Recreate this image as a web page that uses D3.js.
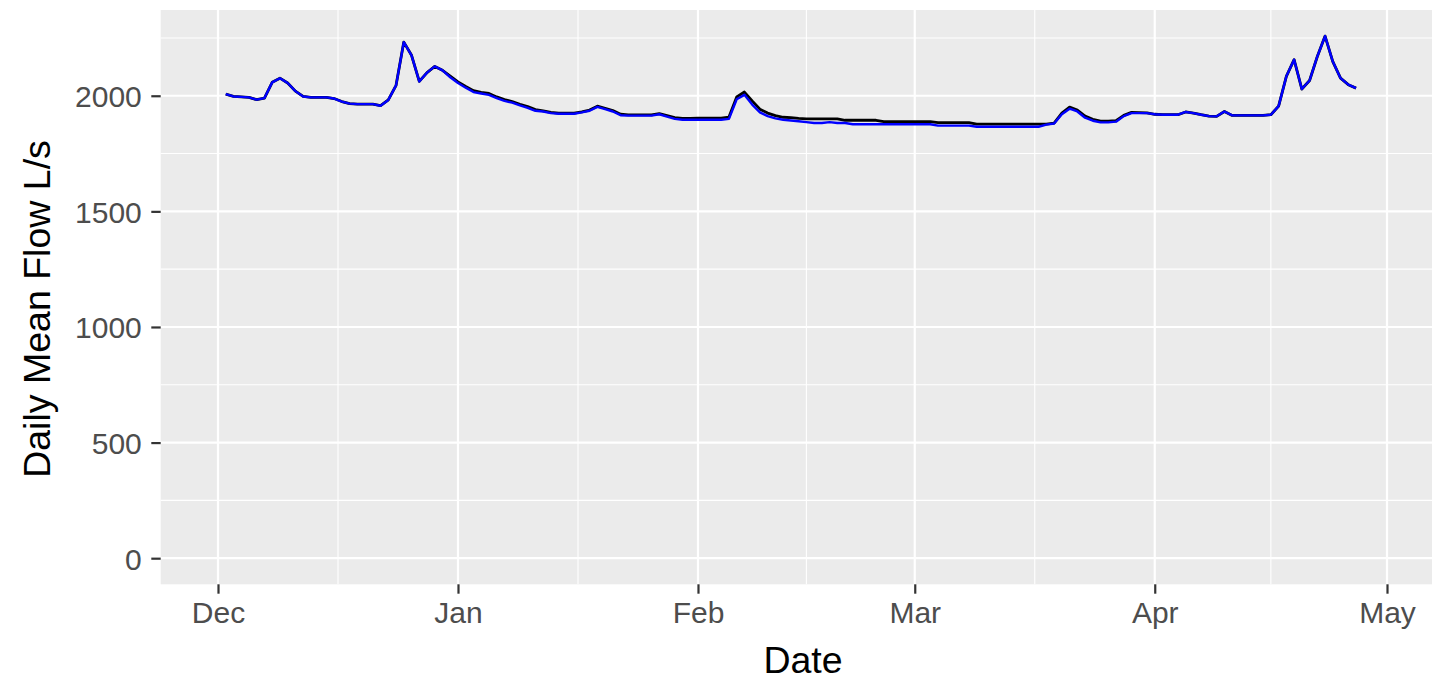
<!DOCTYPE html>
<html>
<head>
<meta charset="utf-8">
<script src="https://cdn.jsdelivr.net/npm/d3@7"></script>
<style>
  html, body { margin: 0; padding: 0; background: #fff; }
  svg { display: block; }
</style>
</head>
<body>
<svg id="chart" width="1432" height="681"></svg>
<script>
// ---------- DATA ----------
const startDate = "2018-12-02"; // first daily observation
const blueFlow = [
  2007, 1997, 1995, 1993, 1983, 1990, 2058, 2076, 2055, 2020,
  1997, 1993, 1993, 1993, 1988, 1975, 1966, 1964, 1964, 1964,
  1957, 1982, 2045, 2232, 2175, 2062, 2100, 2127, 2110, 2080,
  2055, 2035, 2016, 2010, 2004, 1990, 1978, 1970, 1958, 1948,
  1935, 1932, 1925, 1922, 1922, 1922, 1928, 1935, 1952, 1942,
  1932, 1916, 1914, 1914, 1914, 1914, 1920, 1910, 1900, 1896,
  1896, 1896, 1896, 1896, 1896, 1900, 1985, 2004, 1962, 1928,
  1912, 1902, 1896, 1893, 1890, 1886, 1882, 1882, 1886, 1882,
  1882, 1877, 1877, 1877, 1877, 1877, 1877, 1877, 1877, 1877,
  1877, 1877, 1871, 1871, 1871, 1871, 1871, 1866, 1866, 1866,
  1866, 1866, 1866, 1866, 1866, 1866, 1875, 1880, 1920, 1944,
  1932, 1905, 1892, 1885, 1885, 1888, 1912, 1925, 1925, 1925,
  1920, 1918, 1918, 1918, 1930, 1925, 1918, 1912, 1911, 1932,
  1915, 1915, 1915, 1915, 1915, 1918, 1955, 2084, 2156, 2029,
  2066, 2170, 2258, 2148, 2076, 2048, 2033
];
const blackFlow = [
  2007, 1997, 1995, 1993, 1983, 1990, 2058, 2076, 2055, 2020,
  1997, 1993, 1993, 1993, 1988, 1975, 1966, 1964, 1964, 1964,
  1957, 1982, 2045, 2232, 2175, 2062, 2100, 2127, 2110, 2085,
  2060, 2040, 2022, 2015, 2010, 1995, 1983, 1975, 1963, 1953,
  1940, 1935, 1928, 1925, 1925, 1925, 1930, 1938, 1955, 1946,
  1936, 1920, 1917, 1917, 1917, 1917, 1923, 1914, 1905, 1902,
  1902, 1903, 1903, 1903, 1903, 1908, 1995, 2016, 1978, 1942,
  1925, 1914, 1907, 1905, 1902, 1900, 1900, 1900, 1900, 1900,
  1894, 1894, 1894, 1894, 1894, 1888, 1888, 1888, 1888, 1888,
  1888, 1888, 1884, 1884, 1884, 1884, 1884, 1877, 1877, 1877,
  1877, 1877, 1877, 1877, 1877, 1877, 1877, 1882, 1925, 1951,
  1938, 1912, 1898, 1890, 1890, 1892, 1915, 1928, 1927, 1926,
  1920, 1918, 1918, 1918, 1930, 1925, 1918, 1912, 1911, 1932,
  1915, 1915, 1915, 1915, 1915, 1918, 1955, 2084, 2156, 2029,
  2066, 2170, 2258, 2148, 2076, 2048, 2033
];
const yTicks = [0, 500, 1000, 1500, 2000];
const yMinor = [250, 750, 1250, 1750, 2250];
const xTickDates = ["2018-12-01", "2019-01-01", "2019-02-01", "2019-03-01", "2019-04-01", "2019-05-01"];
const xTickLabels = ["Dec", "Jan", "Feb", "Mar", "Apr", "May"];
const xMinorDates = ["2018-12-16T12:00:00Z", "2019-01-16T12:00:00Z", "2019-02-15T00:00:00Z", "2019-03-16T12:00:00Z", "2019-04-16T00:00:00Z"];
const xTitle = "Date";
const yTitle = "Daily Mean Flow L/s";

// ---------- BUILD ----------
const parse = s => new Date(s.length === 10 ? s + "T00:00:00Z" : s);
const t0 = parse(startDate);
const dayDate = i => new Date(t0.getTime() + i * 86400000);
const blueData = blueFlow.map((v, i) => ({ date: dayDate(i), v }));
const blackData = blackFlow.map((v, i) => ({ date: dayDate(i), v }));

const svg = d3.select("#chart");
const panel = { left: 160.7, right: 1432, top: 10, bottom: 584.3 };

const x = d3.scaleUtc()
  .domain([parse("2018-12-01"), parse("2019-05-01")])
  .range([218, 1387]);

const yMax = d3.max([...blueFlow, ...blackFlow]);
const yLo = 0, yHi = yMax;
const ypad = (yHi - yLo) * 0.05;
const y = d3.scaleLinear()
  .domain([yLo - ypad, yHi + ypad])
  .range([panel.bottom, panel.top]);

// panel background
svg.append("rect")
  .attr("x", panel.left).attr("y", panel.top)
  .attr("width", panel.right - panel.left)
  .attr("height", panel.bottom - panel.top)
  .attr("fill", "#EBEBEB");

const grid = svg.append("g");
// minor grid
grid.selectAll(".ymin").data(yMinor).enter().append("line")
  .attr("x1", panel.left).attr("x2", panel.right)
  .attr("y1", d => y(d)).attr("y2", d => y(d))
  .attr("stroke", "#fff").attr("stroke-width", 1.1);
grid.selectAll(".xmin").data(xMinorDates).enter().append("line")
  .attr("y1", panel.top).attr("y2", panel.bottom)
  .attr("x1", d => x(parse(d))).attr("x2", d => x(parse(d)))
  .attr("stroke", "#fff").attr("stroke-width", 1.1);
// major grid
grid.selectAll(".ymaj").data(yTicks).enter().append("line")
  .attr("x1", panel.left).attr("x2", panel.right)
  .attr("y1", d => y(d)).attr("y2", d => y(d))
  .attr("stroke", "#fff").attr("stroke-width", 2.2);
grid.selectAll(".xmaj").data(xTickDates).enter().append("line")
  .attr("y1", panel.top).attr("y2", panel.bottom)
  .attr("x1", d => x(parse(d))).attr("x2", d => x(parse(d)))
  .attr("stroke", "#fff").attr("stroke-width", 2.2);

// lines
const line = d3.line().x(d => x(d.date)).y(d => y(d.v));
svg.append("path").datum(blackData)
  .attr("d", line).attr("fill", "none")
  .attr("stroke", "#000").attr("stroke-width", 2.8)
  .attr("stroke-linejoin", "round");
svg.append("path").datum(blueData)
  .attr("d", line).attr("fill", "none")
  .attr("stroke", "#0000FF").attr("stroke-width", 2.4)
  .attr("stroke-linejoin", "round");

// axes
const font = "'Liberation Sans', Arial, sans-serif";
const yAxis = d3.axisLeft(y).tickValues(yTicks).tickSize(9.4).tickPadding(9.5).tickFormat(d3.format("d"));
const gy = svg.append("g").attr("transform", `translate(${panel.left},0)`).call(yAxis);
gy.select(".domain").remove();
gy.selectAll(".tick line").attr("stroke", "#333").attr("stroke-width", 2.2);
gy.selectAll(".tick text").attr("fill", "#4D4D4D").style("font-family", font).style("font-size", "30px")
  .attr("dy", "0.36em");

const xAxis = d3.axisBottom(x).tickValues(xTickDates.map(parse)).tickSize(9.4).tickPadding(8)
  .tickFormat((d, i) => xTickLabels[i]);
const gx = svg.append("g").attr("transform", `translate(0,${panel.bottom})`).call(xAxis);
gx.select(".domain").remove();
gx.selectAll(".tick line").attr("stroke", "#333").attr("stroke-width", 2.2);
gx.selectAll(".tick text").attr("fill", "#4D4D4D").style("font-family", font).style("font-size", "30px")
  .attr("dy", "0.71em");

// titles
svg.append("text").text(xTitle)
  .attr("x", 803).attr("y", 673)
  .attr("text-anchor", "middle")
  .style("font-family", font).style("font-size", "37.5px").attr("fill", "#000");
svg.append("text").text(yTitle)
  .attr("transform", "translate(50,309) rotate(-90)")
  .attr("text-anchor", "middle")
  .style("font-family", font).style("font-size", "37.5px").attr("fill", "#000");
</script>
</body>
</html>
